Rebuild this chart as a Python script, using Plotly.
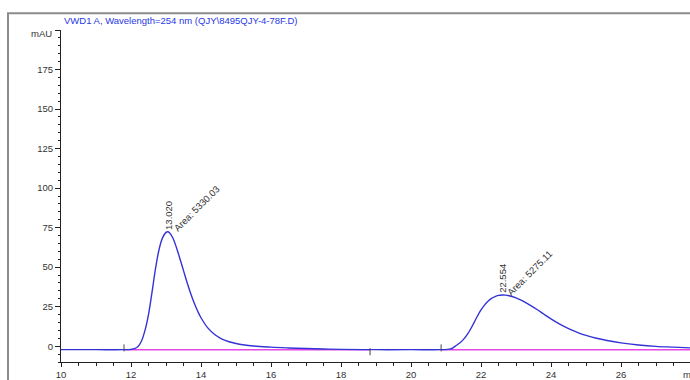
import plotly.graph_objects as go

# Chromatogram trace: VWD1 A, 254 nm
time_min = [10.0, 11.0, 11.8, 12.0, 12.1, 12.2, 12.3, 12.4, 12.5, 12.6, 12.7, 12.8, 12.9,
            13.0, 13.05, 13.1, 13.2, 13.3, 13.4, 13.5, 13.6, 13.7, 13.8, 13.9, 14.0, 14.2,
            14.4, 14.6, 14.8, 15.0, 15.2, 15.5, 16.0, 16.5, 17.0, 17.5, 18.0, 19.0, 20.0,
            20.9, 21.1, 21.2, 21.3, 21.4, 21.5, 21.6, 21.7, 21.8, 21.9, 22.0, 22.1, 22.2,
            22.3, 22.4, 22.5, 22.6, 22.7, 22.8, 23.0, 23.2, 23.4, 23.6, 23.8, 24.0, 24.2,
            24.4, 24.6, 24.8, 25.0, 25.3, 25.6, 26.0, 26.5, 27.0, 27.5, 28.0]
signal_mau = [-2.2, -2.2, -2.2, -2.0, -1.6, -0.2, 3.3, 10.0, 20.0, 34.0, 49.0, 61.0, 68.5,
              72.0, 72.4, 71.8, 68.3, 62.3, 55.2, 47.8, 40.4, 33.6, 27.6, 22.4, 18.0, 11.4,
              7.2, 4.5, 2.8, 1.7, 0.9, 0.1, -0.6, -1.1, -1.5, -1.8, -2.0, -2.2, -2.2,
              -2.2, -1.9, -1.0, 0.6, 2.2, 4.3, 7.1, 10.7, 14.9, 19.1, 22.9, 26.0, 28.4,
              30.2, 31.4, 32.1, 32.4, 32.3, 31.9, 30.6, 28.5, 26.0, 23.2, 20.2, 17.3, 14.6,
              12.2, 10.1, 8.3, 6.8, 5.0, 3.6, 2.1, 0.8, -0.1, -0.6, -1.1]

# Integrated peaks
peak_rt = [13.020, 22.554]
peak_height = [72.4, 32.4]
peak_area = [5330.03, 5275.11]

# Integration baselines (start, end) and level
baseline_segments = [(11.8, 18.83), (20.86, 28.0)]
baseline_level = -2.3
# Integration event marks and their direction (+1 above, -1 below)
event_times = [11.8, 18.83, 20.86]
event_side = [1, -1, 1]

x_ticks = [10, 12, 14, 16, 18, 20, 22, 24, 26]
y_ticks = [0, 25, 50, 75, 100, 125, 150, 175, 200]
y_ticktext = ["0", "25", "50", "75", "100", "125", "150", "175", ""]

title_text = "VWD1 A, Wavelength=254 nm (QJY\\8495QJY-4-78F.D)"

W, H = 690, 380
L, R, T, B = 61, 0, 30, 14
PX_PER_MIN = 35.0
x_range = [10, 10 + (W - L - R) / PX_PER_MIN]
y_range = [-10, 200]

FONT = "Liberation Sans, Arial, sans-serif"
TRACE_BLUE = "rgb(52,52,214)"
BASE_MAGENTA = "rgb(230,70,230)"

fig = go.Figure()

# baselines drawn underneath the signal
for x0, x1 in baseline_segments:
    fig.add_trace(go.Scatter(x=[x0, x1], y=[baseline_level, baseline_level], mode="lines",
                             line=dict(color=BASE_MAGENTA, width=1.5),
                             hoverinfo="skip", showlegend=False))

fig.add_trace(go.Scatter(x=time_min, y=signal_mau, mode="lines",
                         line=dict(color=TRACE_BLUE, width=1.4, shape="spline", smoothing=1.0),
                         showlegend=False))

# short vertical event marks on the baseline
fig.add_trace(go.Scatter(x=event_times,
                         y=[baseline_level + 1.2 * s for s in event_side],
                         mode="markers",
                         marker=dict(symbol="line-ns", size=5,
                                     line=dict(color="#444", width=1)),
                         hoverinfo="skip", showlegend=False))

annotations = []
for rt, h, area in zip(peak_rt, peak_height, peak_area):
    annotations.append(dict(x=rt, y=h, xref="x", yref="y", text=f"{rt:.3f}",
                            textangle=-90, showarrow=False, xanchor="center",
                            yanchor="bottom", xshift=2, yshift=0,
                            font=dict(family=FONT, size=9.5, color="#333")))
    annotations.append(dict(x=rt, y=h, xref="x", yref="y", text=f"Area: {area:.2f}",
                            textangle=-45, showarrow=False, xanchor="left",
                            yanchor="bottom", xshift=2, yshift=-5,
                            font=dict(family=FONT, size=9.5, color="#333")))

pw = W - L - R
ph = H - T - B
def px_x(p):
    return (p - L) / pw
def px_y(p):
    return (H - B - p) / ph

annotations.append(dict(x=px_x(62), y=px_y(20), xref="paper", yref="paper",
                        text=title_text, showarrow=False, xanchor="left", yanchor="middle",
                        font=dict(family=FONT, size=9.5, color="rgb(40,56,230)")))
annotations.append(dict(x=px_x(54), y=px_y(34), xref="paper", yref="paper",
                        text="mAU", showarrow=False, xanchor="right", yanchor="middle",
                        font=dict(family=FONT, size=9.5, color="#333")))
annotations.append(dict(x=px_x(691), y=0, xref="paper", yref="paper",
                        text="min", showarrow=False, xanchor="center", yanchor="top",
                        yshift=-5,
                        font=dict(family=FONT, size=9.5, color="#333")))

# outer gray frame around the chromatogram panel
shapes = [
    dict(type="rect", xref="paper", yref="paper", layer="below",
         x0=px_x(8), x1=px_x(W + 10), y0=px_y(H + 10), y1=px_y(13),
         line=dict(color="#8c8c8c", width=2), fillcolor="rgba(0,0,0,0)"),
]

fig.update_layout(
    width=W, height=H,
    margin=dict(l=L, r=R, t=T, b=B, pad=0),
    paper_bgcolor="white", plot_bgcolor="rgba(0,0,0,0)",
    annotations=annotations, shapes=shapes,
    font=dict(family=FONT, size=9.5, color="#333"),
    showlegend=False,
)
fig.update_xaxes(range=x_range, tickvals=x_ticks, ticks="outside", ticklen=4,
                 tickcolor="#222", showline=True, linecolor="#222", linewidth=1,
                 showgrid=False, zeroline=False,
                 tickfont=dict(family=FONT, size=9.5, color="#333"),
                 minor=dict(dtick=0.5, tick0=10, ticks="outside", ticklen=2.5, tickcolor="#222"))
fig.update_yaxes(range=y_range, tickvals=y_ticks, ticktext=y_ticktext, ticks="outside",
                 ticklen=5, tickcolor="#222", showline=True, linecolor="#222", linewidth=1,
                 showgrid=False, zeroline=False,
                 tickfont=dict(family=FONT, size=9.5, color="#333"),
                 minor=dict(dtick=5, tick0=0, ticks="outside", ticklen=2.5, tickcolor="#222"))

fig.write_html("out.html")
